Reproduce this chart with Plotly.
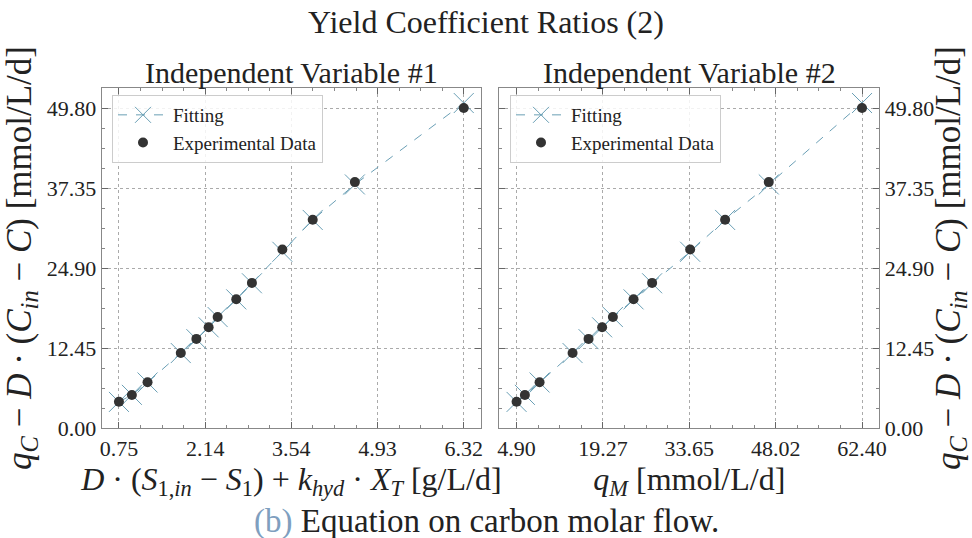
import numpy as np
import plotly.graph_objects as go

# ---------------- data ----------------
x1_exp = [0.75, 0.959, 1.212, 1.749, 2.001, 2.199, 2.344, 2.645, 2.898, 3.390, 3.880, 4.561, 6.32]
x2_exp = [4.90, 6.28, 8.73, 14.22, 16.88, 19.14, 20.93, 24.37, 27.46, 33.79, 39.61, 46.88, 62.40]
y_exp = [4.14, 5.18, 7.16, 11.72, 13.90, 15.72, 17.32, 20.08, 22.61, 27.79, 32.42, 38.28, 49.80]
y_fit = [4.10, 5.20, 7.12, 11.70, 13.86, 15.70, 17.30, 20.05, 22.55, 27.45, 32.40, 37.92, 50.58]

x1_ticklabels = ["0.75", "2.14", "3.54", "4.93", "6.32"]
x2_ticklabels = ["4.90", "19.27", "33.65", "48.02", "62.40"]
y_ticklabels = ["0.00", "12.45", "24.90", "37.35", "49.80"]

title = "Yield Coefficient Ratios (2)"
sub1 = "Independent Variable #1"
sub2 = "Independent Variable #2"
xlab1 = ("<i>D</i> · (<i>S</i><sub>1,<i>in</i></sub> − <i>S</i><sub>1</sub>) + "
         "<i>k</i><sub><i>hyd</i></sub> · <i>X</i><sub><i>T</i></sub> [g/L/d]")
xlab2 = "<i>q</i><sub><i>M</i></sub> [mmol/L/d]"
ylab = "<i>q</i><sub><i>C</i></sub> − <i>D</i> · (<i>C</i><sub><i>in</i></sub> − <i>C</i>) [mmol/L/d]"
caption_b = "(b)"
caption_rest = " Equation on carbon molar flow."

FIT_COLOR = "#6a9fb5"
DOT_COLOR = "#333333"
FONT = "Liberation Serif"
TXT = "#222222"

# ---------------- helpers ----------------
def major_minor(vmin, vmax):
    major = np.linspace(vmin, vmax, 5)
    step = major[1] - major[0]
    minor = []
    for k in range(-2, 4 * 4 + 3):
        v = vmin + k * step / 4
        if k % 4 != 0:
            minor.append(v)
    return list(major), minor

x1_major, x1_minor = major_minor(min(x1_exp), max(x1_exp))
x2_major, x2_minor = major_minor(min(x2_exp), max(x2_exp))
y_major, y_minor = major_minor(0.0, max(y_exp))

def pad_range(vals, frac=0.05):
    lo, hi = min(vals), max(vals)
    d = hi - lo
    return [lo - frac * d, hi + frac * d]

y_range = [0.0, max(y_exp) * 1.0635]

fig = go.Figure()

for i, (xe, leg) in enumerate([(x1_exp, "legend"), (x2_exp, "legend2")]):
    xa = "x" if i == 0 else "x2"
    ya = "y" if i == 0 else "y2"
    fig.add_trace(go.Scatter(
        x=xe, y=y_fit, mode="lines+markers", name="Fitting",
        line=dict(color=FIT_COLOR, width=1, dash="dash"),
        marker=dict(symbol="x-thin", size=20, line=dict(color=FIT_COLOR, width=1)),
        xaxis=xa, yaxis=ya, legend=leg))
    fig.add_trace(go.Scatter(
        x=xe, y=y_exp, mode="markers", name="Experimental Data",
        marker=dict(symbol="circle", size=10, color=DOT_COLOR),
        xaxis=xa, yaxis=ya, legend=leg))

W, H = 972, 538
dom_x1 = [101.7 / W, 481 / W]
dom_x2 = [499.3 / W, 879.3 / W]
dom_y = [1 - 428.3 / H, 1 - 87.7 / H]

axis_common = dict(
    showline=True, linecolor="#888888", linewidth=1, mirror="allticks",
    ticks="inside", ticklen=6, tickcolor="#666666", tickwidth=1,
    showgrid=True, gridcolor="#aaaaaa", griddash="dot", gridwidth=0.8,
    zeroline=False, automargin=False,
    tickfont=dict(family=FONT, size=22, color=TXT),
)

def minor_cfg(vals):
    return dict(tickmode="array", tickvals=vals, ticks="inside", ticklen=3,
                tickcolor="#888888", showgrid=False)

xtitle_font = dict(family=FONT, size=32, color=TXT)
ytitle_font = dict(family=FONT, size=35, color=TXT)

fig.update_layout(
    width=W, height=H, margin=dict(l=0, r=0, t=0, b=0),
    paper_bgcolor="white", plot_bgcolor="white",
    font=dict(family=FONT, color=TXT),
    title=dict(text=title, x=0.5, xanchor="center", y=1 - 22 / H, yanchor="middle",
               font=dict(family=FONT, size=32, color=TXT)),
    xaxis=dict(domain=dom_x1, anchor="y", range=pad_range(x1_exp),
               tickmode="array", tickvals=x1_major, ticktext=x1_ticklabels,
               minor=minor_cfg(x1_minor),
               title=dict(text=xlab1, standoff=2, font=xtitle_font), **axis_common),
    xaxis2=dict(domain=dom_x2, anchor="y2", range=pad_range(x2_exp),
                tickmode="array", tickvals=x2_major, ticktext=x2_ticklabels,
                minor=minor_cfg(x2_minor),
                title=dict(text=xlab2, standoff=2, font=xtitle_font), **axis_common),
    yaxis=dict(domain=dom_y, anchor="x", range=y_range,
               tickmode="array", tickvals=y_major, ticktext=y_ticklabels,
               minor=minor_cfg(y_minor),
               title=dict(text=ylab, standoff=4, font=ytitle_font), **axis_common),
    yaxis2=dict(domain=dom_y, anchor="x2", range=y_range, side="right",
                tickmode="array", tickvals=y_major, ticktext=y_ticklabels,
                minor=minor_cfg(y_minor),
                title=dict(text=ylab, standoff=4, font=ytitle_font), **axis_common),
    legend=dict(x=112 / W, y=1 - 95 / H, xanchor="left", yanchor="top",
                bgcolor="rgba(255,255,255,0.85)", bordercolor="#cccccc", borderwidth=1,
                font=dict(family=FONT, size=19, color=TXT), itemwidth=50,
                tracegroupgap=0),
    legend2=dict(x=510 / W, y=1 - 95 / H, xanchor="left", yanchor="top",
                 bgcolor="rgba(255,255,255,0.85)", bordercolor="#cccccc", borderwidth=1,
                 font=dict(family=FONT, size=19, color=TXT), itemwidth=50,
                 tracegroupgap=0),
    showlegend=True,
)

fig.add_annotation(text=sub1, x=(dom_x1[0] + dom_x1[1]) / 2, y=1 - 72 / H,
                   xref="paper", yref="paper", showarrow=False,
                   font=dict(family=FONT, size=30, color=TXT),
                   xanchor="center", yanchor="middle")
fig.add_annotation(text=sub2, x=(dom_x2[0] + dom_x2[1]) / 2, y=1 - 72 / H,
                   xref="paper", yref="paper", showarrow=False,
                   font=dict(family=FONT, size=30, color=TXT),
                   xanchor="center", yanchor="middle")
fig.add_annotation(text="<span style='color:#7f9fbf'>" + caption_b + "</span>" + caption_rest,
                   x=0.5, y=1 - 521 / H, xref="paper", yref="paper",
                   showarrow=False, font=dict(family=FONT, size=33, color=TXT),
                   xanchor="center", yanchor="middle")

fig.write_html("out.html")
